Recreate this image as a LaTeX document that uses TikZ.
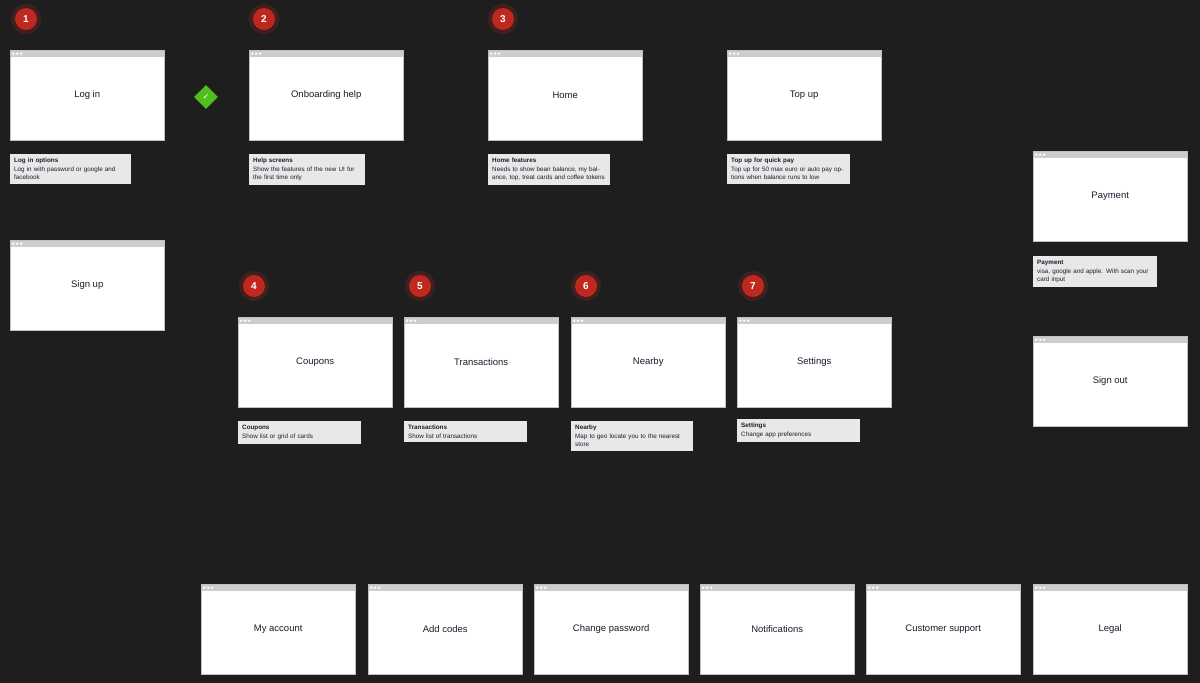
\documentclass[tikz,border=0pt]{standalone}
\usepackage{fontspec}
\setmainfont{Liberation Sans}
\newfontfamily\checkfont{DejaVu Sans}
\usetikzlibrary{arrows.meta,shapes.geometric}
\pgfdeclarelayer{bg}
\pgfsetlayers{bg,main}
\definecolor{Canvas}{RGB}{30, 30, 30}
\definecolor{Bar}{RGB}{205, 205, 205}
\definecolor{Note}{RGB}{232, 232, 232}
\definecolor{Wire}{RGB}{150, 150, 150}
\definecolor{Badge}{RGB}{190, 40, 30}
\definecolor{Okay}{RGB}{80, 190, 30}
\definecolor{Ink}{RGB}{25, 30, 45}
\tikzset{
  screen/.style={rectangle, fill=white, draw=Wire!60, line width=0.4pt, anchor=north west, minimum width=154pt, minimum height=90pt, inner sep=0pt, text=Ink, font=\fontsize{9.5}{11}\selectfont,
    path picture={\fill[Bar] (path picture bounding box.north west) rectangle ([yshift=-7pt]path picture bounding box.north east);
      \foreach \d in {3,7,11} \fill[white] ([xshift=\d pt, yshift=-3.5pt]path picture bounding box.north west) circle (1.3pt);}},
  note/.style={rectangle, fill=Note, anchor=north west, text width=#1, inner sep=4pt, align=left, text=Ink, font=\fontsize{6.3}{8.6}\selectfont},
  badge/.style={circle, fill=Badge, minimum size=22pt, inner sep=0pt, text=white, font=\bfseries\fontsize{10}{12}\selectfont},
  wire/.style={draw=Wire, line width=0.6pt},
  link/.style={wire, -{Triangle[length=5pt, width=4pt]}}
}

\begin{document}
\begin{tikzpicture}[x=1pt, y=-1pt]

\fill[Canvas] (0,0) rectangle (1200,683);
\useasboundingbox (0,0) rectangle (1200,683);

% badges
\foreach \n/\bx/\by in {1/26/19, 2/264/19, 3/503/19, 4/254/286, 5/420/286, 6/586/286, 7/753/286}{
  \fill[Badge, opacity=0.2] (\bx,\by) circle (15pt);
  \node [badge] (b\n) at (\bx,\by) {\n};
}

% screens
\node [screen] (login) at (10,50) {Log in};
\node [screen] (onb) at (249,50) {Onboarding help};
\node [screen] (home) at (488,50) {Home};
\node [screen] (topup) at (727,50) {Top up};
\node [screen] (signup) at (10,240) {Sign up};
\node [screen] (pay) at (1033,151) {Payment};
\node [screen] (signout) at (1033,336) {Sign out};

\node [screen] (coup) at (238,317) {Coupons};
\node [screen] (trans) at (404,317) {Transactions};
\node [screen] (near) at (571,317) {Nearby};
\node [screen] (sett) at (737,317) {Settings};

\node [screen] (acct) at (201,584) {My account};
\node [screen] (codes) at (368,584) {Add codes};
\node [screen] (pass) at (534,584) {Change password};
\node [screen] (notif) at (700,584) {Notifications};
\node [screen] (supp) at (866,584) {Customer support};
\node [screen] (legal) at (1033,584) {Legal};

\node [diamond, fill=Okay, minimum size=24pt, inner sep=0pt, text=white] (ok) at (206,97) {\checkfont\fontsize{8}{8}\selectfont ✓};

% connectors
\begin{pgfonlayer}{bg}
\coordinate (hsplit) at (564,235);
\coordinate (ssplit) at (815,474);
\coordinate (sdrop) at (694,502);
\draw [wire] (login.east |- ok) -- (ok);
\draw [link] (ok) -- (onb.west |- ok);
\draw [link] (login) -- (signup);
\draw [link] (signup.east) -| (ok.south);
\draw [link] (onb) -- (home);
\draw [link] (home) -- (topup);
\draw [link] (topup.east) -- ++(77,0) |- ([yshift=-8pt]pay.west);
\draw [wire] (home.south) -- (hsplit);
\draw [wire] (317,235) -- (809,235);
\foreach \t/\tx in {coup/317, trans/480, near/650, sett/809}
  \draw [link] (\tx,235) -- (\tx,317);
\draw [link] ([yshift=4pt]sett.east) -- ++(69,0) |- ([yshift=15pt]pay.west);
\draw [link] ([yshift=16pt]sett.east) -- (signout.west |- 0,377);
\draw [wire] (sett.south -| ssplit) -- (ssplit) -| (sdrop);
\draw [wire] (278,502) -- (1110,502);
\foreach \tx in {278, 443, 614, 779, 951, 1110}
  \draw [link] (\tx,502) -- (\tx,584);
\end{pgfonlayer}

% notes
\node [note=113pt] (nlogin) at (10,154) {\textbf{Log in options}\\Log in with password or google and facebook};
\node [note=108pt] (nonb) at (249,154) {\textbf{Help screens}\\Show the features of the new UI for the first time only};
\node [note=114pt] (nhome) at (488,154) {\textbf{Home features}\\Needs to show bean balance, my balance, top, treat cards and coffee tokens};
\node [note=115pt] (ntop) at (727,154) {\textbf{Top up for quick pay}\\Top up for 50 max euro or auto pay options when balance runs to low};
\node [note=116pt] (npay) at (1033,256) {\textbf{Payment}\\visa, google and apple. With scan your card input};
\node [note=115pt] (ncoup) at (238,421) {\textbf{Coupons}\\Show list or grid of cards};
\node [note=115pt] (ntrans) at (404,421) {\textbf{Transactions}\\Show list of transactions};
\node [note=114pt] (nnear) at (571,421) {\textbf{Nearby}\\Map to geo locate you to the nearest store};
\node [note=115pt] (nsett) at (737,419) {\textbf{Settings}\\Change app preferences};

\end{tikzpicture}
\end{document}
